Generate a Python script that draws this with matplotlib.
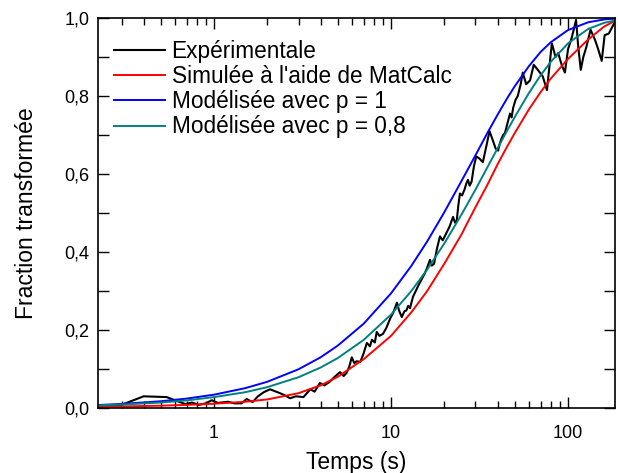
import matplotlib
matplotlib.use("Agg")
import matplotlib.pyplot as plt
from matplotlib.ticker import FixedLocator, FuncFormatter, LogLocator, NullFormatter, MultipleLocator

plt.rcParams['font.family'] = ['Liberation Sans', 'DejaVu Sans']

# Experimental data (time s, fraction)
t_exp = [0.22, 0.30, 0.36, 0.40, 0.54, 0.60, 0.69, 0.75, 0.82, 0.90, 0.97, 1.05, 1.2, 1.3,
         1.43, 1.53, 1.65, 1.77, 1.9, 2.07, 2.3, 2.5, 2.69, 2.9, 3.2, 3.5, 3.7, 3.96, 4.2,
         4.5, 4.8, 5.15, 5.4, 5.6, 5.8, 6.0, 6.2, 6.4, 6.7, 7.0, 7.3, 7.6, 7.8, 8.1, 8.3, 8.6,
         9.0, 9.4, 9.9, 10.3, 10.8, 11.1, 11.5, 11.9, 12.2, 12.5, 12.8, 13.3, 13.8, 14.3, 14.9,
         15.5, 16.0, 16.6, 17.0, 17.5, 18.2, 18.9, 19.6, 20.6, 21.4, 22.4, 23.0, 23.5, 24.0, 24.5,
         25.2, 26, 26.6, 27.2, 27.8, 28.5, 29.4, 30.3, 31.5, 33, 34.5, 36, 37, 38, 39, 40.3, 41,
         42, 43, 44, 45.5, 47, 48, 49, 50.5, 52, 54, 55.5, 58, 61, 64, 67.5, 72, 76, 81, 85, 88,
         92, 96, 100, 105, 111, 114, 118, 122, 127, 134, 142, 148, 155, 161, 170, 177, 184]
f_exp = [0.005, 0.008, 0.022, 0.03, 0.028, 0.02, 0.01, 0.014, 0.008, 0.012, 0.02, 0.013, 0.016, 0.012,
         0.012, 0.023, 0.015, 0.03, 0.04, 0.048, 0.04, 0.033, 0.025, 0.03, 0.028, 0.048, 0.042, 0.064, 0.058,
         0.067, 0.08, 0.092, 0.082, 0.09, 0.105, 0.13, 0.115, 0.12, 0.118, 0.14, 0.167, 0.158, 0.175, 0.168, 0.195, 0.185,
         0.19, 0.205, 0.23, 0.245, 0.27, 0.25, 0.233, 0.248, 0.25, 0.262, 0.256, 0.285, 0.30, 0.315, 0.33,
         0.345, 0.36, 0.38, 0.365, 0.37, 0.41, 0.44, 0.43, 0.45, 0.465, 0.49, 0.475, 0.48, 0.52, 0.55,
         0.545, 0.56, 0.575, 0.585, 0.57, 0.58, 0.62, 0.645, 0.64, 0.63, 0.67, 0.71, 0.695, 0.68, 0.665, 0.66, 0.675,
         0.69, 0.70, 0.705, 0.73, 0.755, 0.745, 0.77, 0.79, 0.80, 0.83, 0.86, 0.83, 0.84, 0.88, 0.867, 0.85, 0.815, 0.935, 0.90, 0.91,
         0.88, 0.86, 0.92, 0.95, 0.995, 0.93, 0.867, 0.90, 0.926, 0.97, 0.944, 0.92, 0.89, 0.956, 0.96, 0.975, 0.99]

# Model curves sampled at common times
t_mod = [0.22, 0.3, 0.5, 0.7, 1, 1.5, 2, 3, 4, 5, 7, 10, 13, 16, 20, 25, 30, 35, 40, 45, 50, 60, 70, 80,
         100, 130, 160, 185]
f_matcalc = [0.003, 0.004, 0.006, 0.008, 0.011, 0.016, 0.022, 0.038, 0.058, 0.08, 0.125, 0.185, 0.245, 0.30,
             0.37, 0.445, 0.515, 0.572, 0.625, 0.668, 0.705, 0.765, 0.81, 0.845, 0.895, 0.945, 0.978, 0.993]
f_p1 = [0.0076, 0.0104, 0.0173, 0.0241, 0.0342, 0.0509, 0.0673, 0.0993, 0.130, 0.160, 0.216, 0.294, 0.364,
        0.427, 0.502, 0.582, 0.648, 0.705, 0.752, 0.792, 0.825, 0.876, 0.913, 0.938, 0.969, 0.989, 0.9962, 0.9984]
f_p08 = [0.0068, 0.0088, 0.0140, 0.0195, 0.0280, 0.0405, 0.0535, 0.0789, 0.1038, 0.128, 0.1745, 0.2396,
         0.2996, 0.355, 0.422, 0.496, 0.560, 0.617, 0.666, 0.709, 0.746, 0.807, 0.853, 0.888, 0.935, 0.972,
         0.9875, 0.9937]

labels = ["Expérimentale", "Simulée à l'aide de MatCalc", "Modélisée avec p = 1", "Modélisée avec p = 0,8"]
y_ticks = [0.0, 0.2, 0.4, 0.6, 0.8, 1.0]

fig = plt.figure(figsize=(6.18, 4.73), dpi=100)
ax = fig.add_axes([0.1586, 0.1374, 0.8364, 0.8246])

ax.plot(t_exp, f_exp, color='black', lw=1.5, label=labels[0])
ax.plot(t_mod, f_matcalc, color='#ff0000', lw=1.4, label=labels[1])
ax.plot(t_mod, f_p1, color='#0000ff', lw=1.4, label=labels[2])
ax.plot(t_mod, f_p08, color='#008080', lw=1.4, label=labels[3])

ax.set_xscale('log')
ax.set_xlim(0.221, 184)
ax.set_ylim(0, 1.0)

ax.xaxis.set_major_locator(LogLocator(base=10, numticks=10))
ax.xaxis.set_minor_locator(LogLocator(base=10, subs=range(2, 10), numticks=20))
ax.xaxis.set_minor_formatter(NullFormatter())
ax.xaxis.set_major_formatter(FuncFormatter(lambda v, p: f"{v:g}"))
ax.yaxis.set_major_locator(FixedLocator(y_ticks))
ax.yaxis.set_minor_locator(MultipleLocator(0.1))
ax.yaxis.set_major_formatter(FuncFormatter(lambda v, p: f"{v:.1f}".replace('.', ',')))

ax.tick_params(which='both', direction='in', top=True, right=True, width=1.0, labelsize=13)
ax.tick_params(axis='y', pad=6)
ax.tick_params(axis='x', pad=12)
ax.tick_params(which='major', length=8)
ax.tick_params(which='minor', length=5)
ax.tick_params(axis='y', which='minor', length=8)
for s in ax.spines.values():
    s.set_linewidth(1.2)

ax.set_xlabel("Temps (s)", fontsize=16.5, labelpad=7)
ax.set_ylabel("Fraction transformée", fontsize=16.5, labelpad=19)

leg = ax.legend(loc='upper left', bbox_to_anchor=(0.0, 0.985), frameon=False, fontsize=16.3,
                handlelength=2.25, handletextpad=0.3, labelspacing=0.1, borderaxespad=0.3)

fig.savefig("out.png", dpi=100)
